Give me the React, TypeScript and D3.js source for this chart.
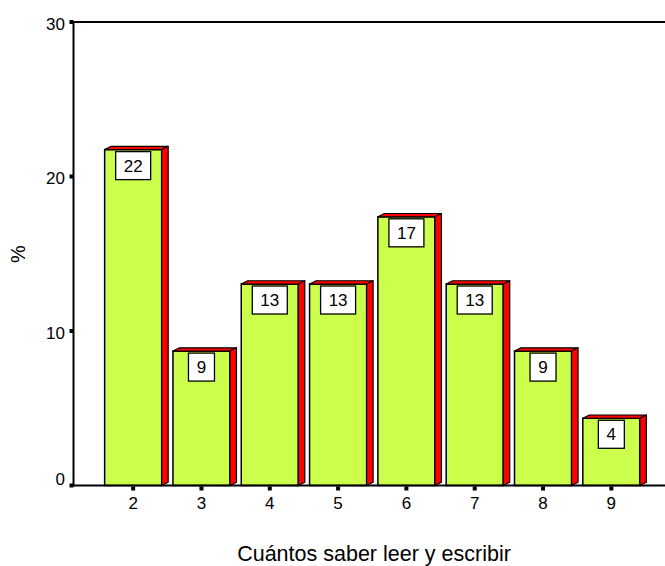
import * as d3 from "d3";
import { useEffect, useRef } from "react";

// categories and percentages (n = 23)
const categories = ["2", "3", "4", "5", "6", "7", "8", "9"];
const percents = [21.74, 8.7, 13.04, 13.04, 17.39, 13.04, 8.7, 4.35];
const barLabels = ["22", "9", "13", "13", "17", "13", "9", "4"];
const yTicks = [0, 10, 20, 30];

const WIDTH = 665;
const HEIGHT = 566;
const FONT = "'Liberation Sans', Arial, sans-serif";

export default function App() {
  const svgRef = useRef<SVGSVGElement>(null);

  useEffect(() => {
    if (!svgRef.current) return;
    const svg = d3.select(svgRef.current);
    svg.selectAll("*").remove();

    const axisX = 73.5;
    const topY = 22;
    const baseY = 485.5;

    const y = d3.scaleLinear().domain([0, 30]).range([baseY, topY]);
    const x = d3
      .scaleBand<string>()
      .domain(categories)
      .range([99, 645.5])
      .paddingInner(0.165)
      .paddingOuter(0.0825);

    const dx = 6.5;
    const dy = 3.3;

    // bars (front, top, side)
    const bars = svg.append("g");
    categories.forEach((c, i) => {
      const x0 = x(c)!;
      const x1 = x0 + x.bandwidth();
      const yt = y(percents[i]);
      const g = bars.append("g");

      g.append("rect")
        .attr("x", x0)
        .attr("y", yt)
        .attr("width", x1 - x0)
        .attr("height", baseY - yt)
        .style("fill", "#ccff4c")
        .style("stroke", "#000")
        .style("stroke-width", 1.5);

      g.append("path")
        .attr("d", `M${x0},${yt}L${x0 + dx},${yt - dy}L${x1 + dx},${yt - dy}L${x1},${yt}Z`)
        .style("fill", "#ff0000")
        .style("stroke", "#000")
        .style("stroke-width", 1.2)
        .style("stroke-linejoin", "round");

      g.append("path")
        .attr("d", `M${x1},${yt}L${x1 + dx},${yt - dy}L${x1 + dx},${baseY - dy}L${x1},${baseY}Z`)
        .style("fill", "#ff0000")
        .style("stroke", "#000")
        .style("stroke-width", 1.2)
        .style("stroke-linejoin", "round");

      // value label box
      const cx = (x0 + x1) / 2;
      const bw = barLabels[i].length > 1 ? 35 : 26;
      const bh = 28;
      g.append("rect")
        .attr("x", cx - bw / 2)
        .attr("y", yt + 2)
        .attr("width", bw)
        .attr("height", bh)
        .style("fill", "#fff")
        .style("stroke", "#000")
        .style("stroke-width", 1.3);
      g.append("text")
        .attr("x", cx)
        .attr("y", yt + 2 + bh / 2)
        .attr("dy", "0.36em")
        .attr("text-anchor", "middle")
        .style("font-family", FONT)
        .style("font-size", "17px")
        .style("fill", "#000")
        .text(barLabels[i]);
    });

    // frame: top line, y axis, x axis
    svg
      .append("line")
      .attr("x1", axisX)
      .attr("x2", WIDTH)
      .attr("y1", topY)
      .attr("y2", topY)
      .style("stroke", "#000")
      .style("stroke-width", 2);
    svg
      .append("line")
      .attr("x1", axisX)
      .attr("x2", axisX)
      .attr("y1", topY - 1)
      .attr("y2", baseY + 1)
      .style("stroke", "#000")
      .style("stroke-width", 2);
    svg
      .append("line")
      .attr("x1", axisX)
      .attr("x2", WIDTH)
      .attr("y1", baseY)
      .attr("y2", baseY)
      .style("stroke", "#000")
      .style("stroke-width", 2);

    // y ticks
    yTicks.forEach((t) => {
      const ty = y(t);
      svg
        .append("rect")
        .attr("x", axisX - 4)
        .attr("y", ty - 2)
        .attr("width", 4)
        .attr("height", 4)
        .style("fill", "#000");
      svg
        .append("text")
        .attr("x", 65)
        .attr("y", Math.min(ty + 1.5, baseY - 7))
        .attr("dy", "0.36em")
        .attr("text-anchor", "end")
        .style("font-family", FONT)
        .style("font-size", "17px")
        .style("fill", "#000")
        .text(String(t));
    });

    // x ticks
    categories.forEach((c) => {
      const cx = x(c)! + x.bandwidth() / 2;
      svg
        .append("rect")
        .attr("x", cx - 2)
        .attr("y", baseY + 1)
        .attr("width", 4)
        .attr("height", 4)
        .style("fill", "#000");
      svg
        .append("text")
        .attr("x", cx)
        .attr("y", 503)
        .attr("dy", "0.36em")
        .attr("text-anchor", "middle")
        .style("font-family", FONT)
        .style("font-size", "17px")
        .style("fill", "#000")
        .text(c);
    });

    // axis titles
    svg
      .append("text")
      .attr("x", 374)
      .attr("y", 553)
      .attr("dy", "0.36em")
      .attr("text-anchor", "middle")
      .style("font-family", FONT)
      .style("font-size", "21.5px")
      .style("fill", "#000")
      .text("Cuántos saber leer y escribir");

    svg
      .append("text")
      .attr("transform", `translate(18,254) rotate(-90)`)
      .attr("dy", "0.36em")
      .attr("text-anchor", "middle")
      .style("font-family", FONT)
      .style("font-size", "20px")
      .style("fill", "#000")
      .text("%");
  }, []);

  return (
    <div style={{ position: "absolute", left: 0, top: 0 }}>
      <svg ref={svgRef} width={WIDTH} height={HEIGHT} style={{ display: "block", background: "#fff" }} />
    </div>
  );
}
